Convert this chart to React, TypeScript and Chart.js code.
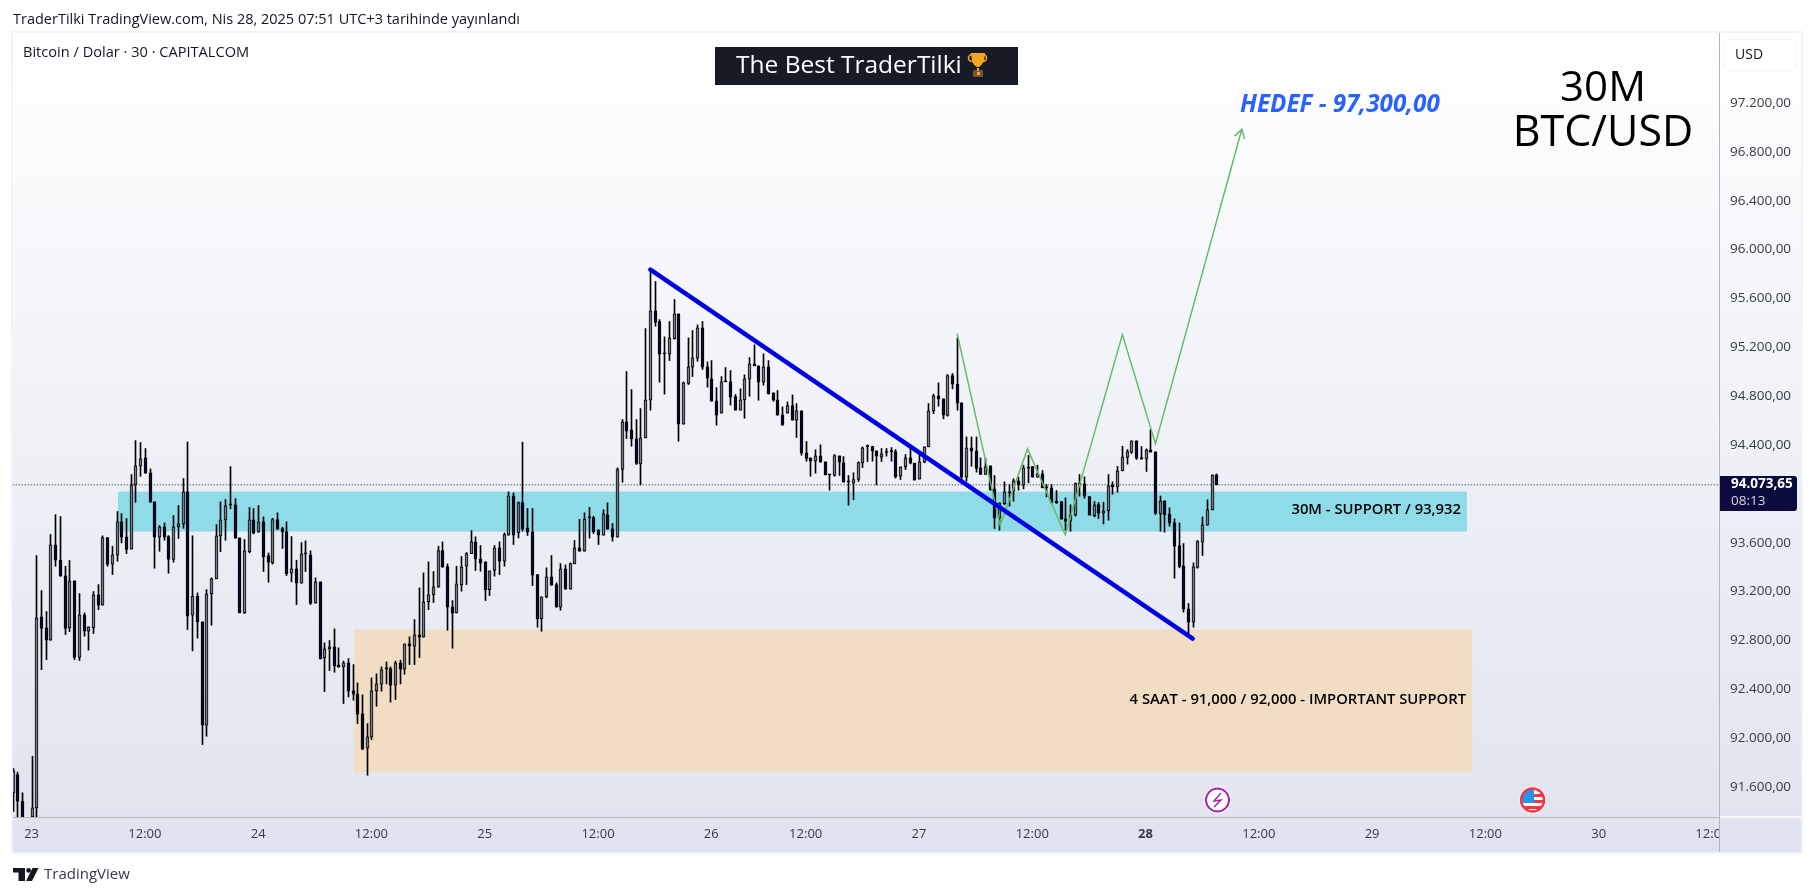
import { useEffect, useRef } from "react";
import { Chart, registerables } from "chart.js";

Chart.register(...registerables);

const FONT = '"Open Sans", sans-serif';

// candles, one entry per 30 minute bar, starting 4 bars before the "23" label
const firstBar = -4;
const opens = [
  91552, 91702, 91483, 91300, 91355, 91429, 92992, 92902, 92801, 93582,
  93456, 93331, 92902, 93287, 92660, 93009, 92875, 92905, 93173, 93088,
  93642, 93424, 93497, 93770, 93648, 93547, 94073, 94226, 94294, 94171,
  93934, 93645, 93729, 93650, 93462, 93729, 93751, 94016, 93006, 93162,
  92952, 92105, 93181, 93304, 93656, 93787, 93909, 93909, 93639, 93025,
  93527, 93787, 93686, 93770, 93495, 93435, 93789, 93716, 93688, 93350,
  93385, 93268, 93508, 93500, 93104, 93279, 92657, 92730, 92747, 92600,
  92583, 92616, 92387, 92359, 92198, 91917, 92007, 92387, 92441, 92567,
  92570, 92433, 92616, 92564, 92771, 92752, 92845, 92826, 93118, 93173,
  93235, 93536, 93405, 93075, 93025, 93255, 93407, 93511, 93607, 93465,
  93443, 93216, 93372, 93558, 93448, 93661, 93983, 93680, 93929, 93721,
  93689, 93339, 92976, 93156, 93320, 93257, 93072, 93386, 93219, 93427,
  93558, 93530, 93803, 93806, 93705, 93661, 93828, 93713, 93645, 94199,
  94589, 94524, 94450, 94245, 94458, 94766, 95498, 95411, 95146, 95143,
  95271, 95473, 94570, 94903, 95037, 95110, 95359, 95039, 94941, 94761,
  94660, 94917, 94917, 94797, 94685, 94769, 94938, 95064, 95048, 94914,
  95039, 94827, 94769, 94646, 94660, 94723, 94603, 94679, 94335, 94294,
  94267, 94311, 94262, 94155, 94150, 94311, 94253, 94098, 94087, 94117,
  94253, 94387, 94387, 94352, 94300, 94338, 94346, 94346, 94144, 94221,
  94294, 94251, 94120, 94259, 94385, 94679, 94802, 94777, 94641, 94969,
  94898, 94745, 94136, 94376, 94349, 94213, 94158, 94229, 94041, 93801,
  93920, 94016, 94022, 94106, 94071, 94218, 94224, 94136, 94163, 94052,
  94049, 93940, 93937, 93795, 93776, 93825, 94079, 94082, 93978, 93822,
  93912, 93841, 93861, 94071, 94057, 94188, 94298, 94341, 94434, 94297,
  94284, 94360, 94344, 93836, 93942, 93836, 93762, 93577, 93410, 93058,
  92949, 93397, 93604, 93743, 93869, 94155,
];
const closes = [
  91729, 91483, 91250, 91100, 91429, 92984, 92897, 92801, 93582, 93456,
  93325, 92897, 93287, 92660, 93009, 92875, 92911, 93173, 93088, 93642,
  93421, 93500, 93770, 93645, 93544, 94073, 94229, 94286, 94171, 93931,
  93645, 93729, 93645, 93462, 93729, 93754, 94016, 92998, 93162, 92952,
  92105, 93181, 93304, 93656, 93787, 93901, 93909, 93636, 93025, 93533,
  93787, 93677, 93770, 93481, 93440, 93789, 93710, 93688, 93347, 93385,
  93268, 93508, 93508, 93102, 93279, 92651, 92730, 92747, 92594, 92580,
  92616, 92384, 92359, 92196, 91909, 92010, 92387, 92444, 92559, 92567,
  92433, 92616, 92564, 92771, 92752, 92845, 92826, 93115, 93173, 93238,
  93536, 93399, 93072, 93022, 93263, 93402, 93511, 93607, 93465, 93432,
  93216, 93369, 93558, 93448, 93667, 93983, 93661, 93929, 93713, 93686,
  93334, 92976, 93156, 93320, 93252, 93072, 93386, 93219, 93429, 93558,
  93530, 93792, 93803, 93691, 93661, 93836, 93710, 93645, 94199, 94589,
  94513, 94450, 94248, 94458, 94769, 95498, 95405, 95143, 95146, 95277,
  95473, 94570, 94908, 95039, 95113, 95359, 95037, 94947, 94758, 94644,
  94917, 94917, 94791, 94685, 94769, 94941, 95064, 95048, 94914, 95039,
  94821, 94766, 94644, 94562, 94723, 94603, 94679, 94335, 94289, 94267,
  94311, 94259, 94155, 94155, 94313, 94259, 94095, 94098, 94117, 94256,
  94376, 94387, 94352, 94308, 94327, 94338, 94346, 94139, 94221, 94294,
  94251, 94112, 94262, 94385, 94679, 94802, 94777, 94644, 94969, 94898,
  94742, 94136, 94376, 94349, 94207, 94158, 94221, 94030, 93801, 93926,
  94016, 94008, 94106, 94071, 94213, 94210, 94136, 94163, 94049, 94049,
  93929, 93926, 93792, 93776, 93828, 94084, 94079, 93981, 93825, 93910,
  93841, 93861, 94065, 94057, 94188, 94303, 94346, 94434, 94292, 94284,
  94360, 94341, 93841, 93942, 93830, 93762, 93571, 93405, 93055, 92949,
  93402, 93609, 93746, 93869, 94155, 94073,
];
const highs = [
  91750, 91721, 91552, 91340, 91852, 93495, 93208, 93036, 93667, 93830,
  93814, 93407, 93454, 93287, 93183, 93025, 92911, 93200, 93257, 93656,
  93642, 93571, 93855, 93838, 93797, 94158, 94436, 94420, 94371, 94204,
  93934, 93740, 93762, 93658, 93822, 93904, 94125, 94425, 93656, 93189,
  92952, 93216, 93312, 93748, 93934, 93953, 94223, 93961, 93639, 93626,
  93888, 93879, 93904, 93811, 93516, 93800, 93844, 93727, 93770, 93650,
  93456, 93601, 93615, 93533, 93312, 93279, 92780, 92799, 92894, 92739,
  92630, 92651, 92602, 92452, 92354, 92119, 92493, 92526, 92583, 92624,
  92583, 92630, 92638, 92771, 92829, 92971, 93230, 93353, 93443, 93364,
  93571, 93606, 93426, 93126, 93407, 93487, 93519, 93699, 93648, 93577,
  93443, 93369, 93577, 93607, 93680, 94016, 94008, 93934, 94423, 93880,
  93880, 93339, 93156, 93394, 93495, 93271, 93429, 93418, 93435, 93618,
  93790, 93844, 93890, 93817, 93705, 93871, 93926, 93757, 94213, 94608,
  95001, 94854, 94608, 94698, 95353, 95836, 95738, 95427, 95285, 95411,
  95591, 95473, 94917, 95277, 95337, 95383, 95411, 95080, 95091, 94870,
  94960, 95034, 95009, 94813, 94859, 94974, 95116, 95220, 95048, 95146,
  95091, 94827, 94846, 94712, 94753, 94810, 94739, 94679, 94428, 94294,
  94360, 94401, 94262, 94155, 94322, 94311, 94305, 94150, 94172, 94262,
  94384, 94401, 94390, 94352, 94371, 94371, 94379, 94363, 94221, 94322,
  94376, 94251, 94322, 94385, 94739, 94816, 94908, 94777, 94977, 94985,
  95277, 94745, 94466, 94466, 94466, 94294, 94289, 94229, 94150, 93926,
  94098, 94076, 94123, 94136, 94234, 94314, 94224, 94234, 94191, 94076,
  94076, 94027, 93937, 93967, 93910, 94090, 94158, 94139, 93978, 93937,
  93929, 93931, 94158, 94098, 94224, 94390, 94363, 94434, 94434, 94387,
  94368, 94526, 94344, 93982, 93942, 93885, 93795, 93762, 93593, 93102,
  93435, 93618, 93811, 93951, 94155, 94163,
];
const lows = [
  91400, 91330, 91150, 91050, 91200, 91300, 92561, 92643, 92801, 93407,
  93325, 92848, 92872, 92643, 92635, 92834, 92720, 92856, 93052, 93088,
  93407, 93339, 93448, 93598, 93511, 93547, 93931, 94144, 94166, 93931,
  93391, 93530, 93620, 93350, 93440, 93634, 93718, 92889, 92714, 92818,
  91947, 92015, 92924, 93304, 93527, 93620, 93877, 93636, 93025, 93020,
  93516, 93672, 93686, 93364, 93276, 93424, 93707, 93552, 93331, 93279,
  93093, 93268, 93364, 93093, 93104, 92646, 92381, 92553, 92539, 92580,
  92283, 92337, 92310, 92119, 91906, 91696, 91988, 92261, 92384, 92444,
  92294, 92316, 92444, 92523, 92602, 92602, 92660, 92826, 93052, 93110,
  93235, 93399, 92883, 92736, 93025, 93203, 93257, 93511, 93372, 93366,
  93126, 93167, 93326, 93339, 93407, 93661, 93585, 93639, 93694, 93659,
  93249, 92908, 92875, 93148, 93250, 93072, 93047, 93219, 93219, 93427,
  93530, 93530, 93637, 93675, 93585, 93661, 93710, 93612, 93645, 94095,
  94453, 94390, 94240, 94073, 94458, 94685, 95372, 94914, 94816, 95091,
  95266, 94431, 94570, 94895, 94960, 95086, 95018, 94873, 94758, 94562,
  94660, 94917, 94726, 94685, 94685, 94619, 94799, 95048, 94766, 94889,
  94816, 94758, 94644, 94562, 94660, 94603, 94461, 94316, 94267, 94144,
  94169, 94259, 94155, 94030, 94144, 94150, 94095, 93907, 93953, 94101,
  94215, 94264, 94267, 94073, 94264, 94308, 94267, 94128, 94117, 94199,
  94245, 94112, 94120, 94254, 94385, 94657, 94717, 94614, 94636, 94859,
  94685, 94103, 94103, 94226, 94177, 94158, 94158, 94030, 93716, 93702,
  93912, 93899, 93940, 94030, 94041, 94090, 94136, 94136, 94049, 93975,
  93921, 93921, 93792, 93702, 93694, 93817, 93981, 93964, 93825, 93811,
  93798, 93754, 93784, 93997, 94013, 94188, 94243, 94330, 94281, 94284,
  94183, 94341, 93830, 93694, 93686, 93735, 93309, 93394, 93031, 92848,
  92908, 93391, 93495, 93743, 93869, 94073,
];

const timeTickBars = [0, 24, 48, 72, 96, 120, 144, 164, 188, 212, 236, 260, 284, 308, 332, 356];
const timeTickLabels = ["23", "12:00", "24", "12:00", "25", "12:00", "26", "12:00", "27", "12:00", "28", "12:00", "29", "12:00", "30", "12:00"];
const boldTickBar = 236;
const priceTicks = [91600, 92000, 92400, 92800, 93200, 93600, 94000, 94400, 94800, 95200, 95600, 96000, 96400, 96800, 97200];
const lastPrice = 94073.65;

// drawings on the chart, [bar, price]
const trendBars = [131.1, 246];
const trendPrices = [95836, 92815];
const pathBars = [196.1, 205.2, 211, 219, 231.1, 238.1, 256.4];
const pathPrices = [95312, 93740, 94368, 93664, 95304, 94411, 96985];
const supportBars = [18.3, 304.1];
const supportPrices = [94018, 93691];
const majorBars = [68.3, 305.2];
const majorPrices = [92888, 91720];

const fmtPrice = (v: number) =>
  v.toLocaleString("de-DE", { minimumFractionDigits: 2, maximumFractionDigits: 2 });

function label(ctx: CanvasRenderingContext2D, s: string, x: number, y: number, font: string, color: string, align: CanvasTextAlign = "left") {
  ctx.font = font;
  ctx.fillStyle = color;
  ctx.textAlign = align;
  ctx.textBaseline = "middle";
  ctx.fillText(s, x, y);
}

function zone(chart: any, bars: number[], prices: number[], color: string) {
  const { x, y } = chart.scales;
  const l = x.getPixelForValue(bars[0]);
  const t = y.getPixelForValue(prices[0]);
  chart.ctx.fillStyle = color;
  chart.ctx.fillRect(l, t, x.getPixelForValue(bars[1]) - l, y.getPixelForValue(prices[1]) - t);
}

function trophy(ctx: CanvasRenderingContext2D) {
  ctx.strokeStyle = "#f5a623";
  ctx.lineWidth = 1.6;
  ctx.beginPath();
  ctx.arc(972, 58, 3.5, 0.5 * Math.PI, 1.5 * Math.PI);
  ctx.arc(983, 58, 3.5, 1.5 * Math.PI, 0.5 * Math.PI);
  ctx.stroke();
  ctx.fillStyle = "#f5a623";
  ctx.beginPath();
  ctx.moveTo(971, 53);
  ctx.lineTo(985, 53);
  ctx.lineTo(984, 61);
  ctx.quadraticCurveTo(981, 66, 979, 67);
  ctx.lineTo(977, 67);
  ctx.quadraticCurveTo(974, 66, 972, 61);
  ctx.closePath();
  ctx.fill();
  ctx.fillStyle = "#7a5230";
  ctx.fillRect(973, 70, 10, 7);
  ctx.fillStyle = "#f5a623";
  ctx.fillRect(977, 68, 2, 3);
  ctx.fillRect(977, 72, 3, 3);
}

function eventIcons(ctx: CanvasRenderingContext2D) {
  // earnings style lightning mark
  ctx.beginPath();
  ctx.arc(1217.5, 800, 13.5, 0, Math.PI * 2);
  ctx.fillStyle = "#fff";
  ctx.fill();
  ctx.beginPath();
  ctx.arc(1217.5, 800, 11.5, 0, Math.PI * 2);
  ctx.strokeStyle = "#9c27b0";
  ctx.lineWidth = 2;
  ctx.stroke();
  ctx.beginPath();
  ctx.moveTo(1221, 793);
  ctx.lineTo(1214, 801);
  ctx.lineTo(1221, 800);
  ctx.lineTo(1214, 807);
  ctx.lineWidth = 1.5;
  ctx.stroke();
  // US flag mark
  ctx.beginPath();
  ctx.arc(1532.6, 800, 13.5, 0, Math.PI * 2);
  ctx.fillStyle = "#fff";
  ctx.fill();
  ctx.save();
  ctx.beginPath();
  ctx.arc(1532.6, 800, 11, 0, Math.PI * 2);
  ctx.clip();
  ctx.fillStyle = "#f23645";
  ctx.fillRect(1534, 794, 12, 3);
  ctx.fillRect(1534, 800, 12, 3);
  ctx.fillRect(1520, 806, 26, 3);
  ctx.fillStyle = "#2196f3";
  ctx.fillRect(1520, 788, 14, 15);
  ctx.restore();
  ctx.beginPath();
  ctx.arc(1532.6, 800, 11.5, 0, Math.PI * 2);
  ctx.strokeStyle = "#f23645";
  ctx.lineWidth = 2.5;
  ctx.stroke();
}

function tvLogo(ctx: CanvasRenderingContext2D) {
  ctx.fillStyle = "#131722";
  ctx.fillRect(13, 868, 12, 4.5);
  ctx.fillRect(18.5, 868, 6.5, 13);
  ctx.beginPath();
  ctx.arc(28.6, 870.4, 2.4, 0, Math.PI * 2);
  ctx.fill();
  ctx.beginPath();
  ctx.moveTo(32.5, 868);
  ctx.lineTo(38.5, 868);
  ctx.lineTo(32, 881);
  ctx.lineTo(26, 881);
  ctx.closePath();
  ctx.fill();
}

const tvPlugin = {
  id: "tvFrame",
  beforeDraw(chart: any) {
    const { ctx } = chart;
    ctx.fillStyle = "#fff";
    ctx.fillRect(0, 0, 1814, 896);
    const grad = ctx.createLinearGradient(0, 33, 0, 852);
    grad.addColorStop(0, "#ffffff");
    grad.addColorStop(1, "#e0e3ef");
    ctx.fillStyle = grad;
    ctx.fillRect(13, 33, 1788, 819);
    ctx.strokeStyle = "#f0f3fa";
    ctx.lineWidth = 2;
    ctx.strokeRect(12, 32, 1790, 821);
  },
  beforeDatasetsDraw(chart: any) {
    zone(chart, supportBars, supportPrices, "#8fdbe8");
    zone(chart, majorBars, majorPrices, "#f0ddc3");
  },
  afterDatasetsUpdate(chart: any) {
    // snap candles to whole pixels so wicks stay crisp
    chart.data.datasets.forEach((ds: any, i: number) => {
      if (ds.type === "line") return;
      chart.getDatasetMeta(i).data.forEach((el: any) => {
        el.x = Math.round(el.x) + 0.5;
      });
    });
  },
  afterDraw(chart: any) {
    const { ctx, scales } = chart;
    const grad = ctx.createLinearGradient(0, 33, 0, 852);
    grad.addColorStop(0, "#ffffff");
    grad.addColorStop(1, "#e0e3ef");
    // price scale corner hides the last, cut off time label
    ctx.fillStyle = grad;
    ctx.fillRect(1720, 818, 81, 34);
    ctx.strokeStyle = "#b2b5be";
    ctx.lineWidth = 1;
    ctx.beginPath();
    ctx.moveTo(1719.5, 817);
    ctx.lineTo(1719.5, 852);
    ctx.stroke();
    ctx.strokeStyle = "#ffffff";
    ctx.lineWidth = 1.5;
    ctx.beginPath();
    ctx.moveTo(1720, 817);
    ctx.lineTo(1801, 817);
    ctx.stroke();

    // arrow head on the projected path
    const n = pathBars.length - 1;
    const tipX = scales.x.getPixelForValue(pathBars[n]);
    const tipY = scales.y.getPixelForValue(pathPrices[n]);
    const ang = Math.atan2(
      tipY - scales.y.getPixelForValue(pathPrices[n - 1]),
      tipX - scales.x.getPixelForValue(pathBars[n - 1]),
    );
    ctx.strokeStyle = "#66bb6a";
    ctx.lineWidth = 1.5;
    ctx.beginPath();
    ctx.moveTo(tipX + 10 * Math.cos(ang + 2.6), tipY + 10 * Math.sin(ang + 2.6));
    ctx.lineTo(tipX, tipY);
    ctx.lineTo(tipX + 10 * Math.cos(ang - 2.6), tipY + 10 * Math.sin(ang - 2.6));
    ctx.stroke();

    // header
    label(ctx, "TraderTilki TradingView.com, Nis 28, 2025 07:51 UTC+3 tarihinde yayınlandı", 13, 20, `14.5px ${FONT}`, "#131722");
    label(ctx, "Bitcoin / Dolar · 30 · CAPITALCOM", 23, 53, `14.6px ${FONT}`, "#131722");
    ctx.fillStyle = "#171b26";
    ctx.fillRect(715, 47, 303, 38);
    label(ctx, "The Best TraderTilki", 736, 66, `24.5px ${FONT}`, "#ffffff");
    trophy(ctx);

    // drawing labels
    label(ctx, "HEDEF - 97,300,00", 1240, 105, `italic bold 24.2px ${FONT}`, "#2962ff");
    label(ctx, "30M", 1603, 89, `42px ${FONT}`, "#000000", "center");
    label(ctx, "BTC/USD", 1603, 134, `43px ${FONT}`, "#000000", "center");
    label(ctx, "30M - SUPPORT / 93,932", 1461, 510, `600 14.8px ${FONT}`, "#000000", "right");
    label(ctx, "4 SAAT - 91,000 / 92,000 - IMPORTANT SUPPORT", 1466, 700, `600 14.8px ${FONT}`, "#000000", "right");

    // price scale bits
    ctx.beginPath();
    ctx.roundRect(1724, 39, 72, 32, 6);
    ctx.fillStyle = "#ffffff";
    ctx.fill();
    ctx.strokeStyle = "#f0f3fa";
    ctx.lineWidth = 1;
    ctx.stroke();
    label(ctx, "USD", 1735, 55, `14px ${FONT}`, "#131722");
    ctx.beginPath();
    ctx.roundRect(1720, 476, 77, 35, [0, 3, 3, 0]);
    ctx.fillStyle = "#0a0a3c";
    ctx.fill();
    label(ctx, fmtPrice(lastPrice), 1731, 484, `bold 13.5px ${FONT}`, "#ffffff");
    label(ctx, "08:13", 1731, 501, `13.5px ${FONT}`, "#d6d8e4");

    eventIcons(ctx);
    tvLogo(ctx);
    label(ctx, "TradingView", 44, 875, `15px ${FONT}`, "#363a45");
  },
};

export default function App() {
  const canvasRef = useRef<HTMLCanvasElement>(null);

  useEffect(() => {
    if (!canvasRef.current) return;
    const barX = (i: number) => firstBar + i;
    const isUp = (i: number) => closes[i] > opens[i];
    const chart = new Chart(canvasRef.current, {
      type: "bar",
      data: {
        datasets: [
          {
            label: "trend",
            type: "line",
            order: 1,
            data: trendBars.map((x, i) => ({ x, y: trendPrices[i] })),
            borderColor: "#0000e6",
            borderWidth: 4.5,
            borderCapStyle: "round",
            pointRadius: 0,
            tension: 0,
          },
          {
            label: "path",
            type: "line",
            order: 2,
            data: pathBars.map((x, i) => ({ x, y: pathPrices[i] })),
            borderColor: "#66bb6a",
            borderWidth: 1.5,
            pointRadius: 0,
            tension: 0,
          },
          {
            label: "body",
            order: 3,
            grouped: false,
            maxBarThickness: 3,
            barPercentage: 1,
            categoryPercentage: 1,
            minBarLength: 1,
            borderSkipped: false,
            borderWidth: 1,
            borderColor: "#000000",
            backgroundColor: (c: any) => (isUp(c.dataIndex) ? "#787b86" : "#0a0a2e"),
            data: opens.map((o, i) => ({ x: barX(i), y: [Math.min(o, closes[i]), Math.max(o, closes[i])] })),
          },
          {
            label: "wick",
            order: 4,
            grouped: false,
            maxBarThickness: 1,
            barPercentage: 1,
            categoryPercentage: 1,
            borderSkipped: false,
            borderWidth: 0,
            backgroundColor: "#000000",
            data: lows.map((l, i) => ({ x: barX(i), y: [l, highs[i]] })),
          },
          {
            label: "last",
            type: "line",
            order: 5,
            data: [
              { x: firstBar, y: lastPrice },
              { x: 358, y: lastPrice },
            ],
            borderColor: "#131722",
            borderWidth: 1,
            borderDash: [1, 2],
            pointRadius: 0,
          },
        ],
      } as any,
      options: {
        animation: false,
        responsive: false,
        devicePixelRatio: 1,
        layout: { padding: { left: 13, right: 13, top: 33, bottom: 44 } },
        plugins: { legend: { display: false }, tooltip: { enabled: false } },
        scales: {
          x: {
            type: "linear",
            offset: false,
            min: -3.94,
            max: 357.5,
            grid: { display: false, offset: false, drawTicks: false },
            border: { color: "#b2b5be" },
            afterBuildTicks: (s: any) => {
              s.ticks = timeTickBars.map((value) => ({ value }));
            },
            afterFit: (s: any) => {
              s.height = 35;
            },
            ticks: {
              autoSkip: false,
              maxRotation: 0,
              padding: 9,
              color: "#363a45",
              callback: (v: any) => timeTickLabels[timeTickBars.indexOf(v)],
              font: (c: any) => ({
                family: FONT,
                size: 13,
                weight: c.tick && c.tick.value === boldTickBar ? "bold" : "normal",
              }),
            },
          },
          y: {
            position: "right",
            min: 91354,
            max: 97773,
            grid: { display: false, drawTicks: false },
            border: { color: "#b2b5be" },
            afterBuildTicks: (s: any) => {
              s.ticks = priceTicks.map((value) => ({ value }));
            },
            afterFit: (s: any) => {
              s.width = 82;
            },
            ticks: {
              padding: 11,
              color: "#363a45",
              font: { family: FONT, size: 13.5 },
              callback: (v: any) => fmtPrice(v),
            },
          },
        },
      } as any,
      plugins: [tvPlugin],
    });
    return () => chart.destroy();
  }, []);

  return (
    <div style={{ position: "fixed", left: 0, top: 0, width: 1814, height: 896 }}>
      <canvas ref={canvasRef} width={1814} height={896} style={{ display: "block" }} />
    </div>
  );
}
